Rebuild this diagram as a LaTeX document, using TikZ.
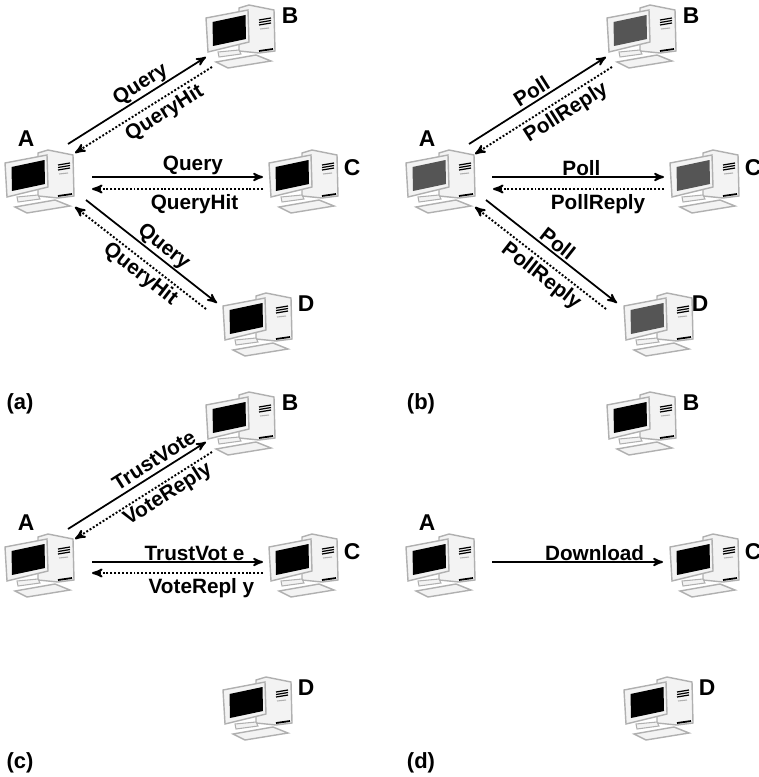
\documentclass[tikz,border=0pt]{standalone}
\usepackage{fontspec}
\setmainfont{Liberation Sans}
\usetikzlibrary{arrows}
\definecolor{casing}{HTML}{B0B0B0}
\definecolor{shell}{HTML}{F3F3F3}
\definecolor{dimscreen}{HTML}{555555}
\tikzstyle{compbox} = [rectangle, minimum width=40pt, minimum height=37pt, inner sep=0pt]
\tikzstyle{msg} = [font=\bfseries\fontsize{11.8}{13}\selectfont, inner sep=.5pt]
\tikzstyle{letter} = [font=\bfseries\fontsize{13}{15}\selectfont, inner sep=0pt]
\tikzstyle{caption} = [font=\bfseries\fontsize{12.5}{14}\selectfont, inner sep=0pt]
\tikzstyle{request} = [-stealth', line width=1pt, black]
\tikzstyle{answer} = [-stealth', line width=1.1pt, dash pattern=on 1.1pt off 1.1pt, black]
\tikzset{
pics/computer/.style={code={
 % tower
 \draw[casing,fill=shell,line width=0.8pt] (38,3) -- (48,0) -- (73,5) -- (74,46) -- (58,48) -- (38,46) -- cycle;
 \draw[black,line width=0.7pt] (58,15) -- (70,13) (58,17.5) -- (70,15.5) (58,20) -- (70,18);
 \draw[casing,line width=0.6pt] (59,24) -- (68,23);
 \draw[black,line width=1pt] (58,46) -- (72,44);
 % stand and keyboard
 \draw[casing,fill=shell,line width=0.6pt] (17,47) -- (38,45) -- (40,49) -- (18,52) -- cycle;
 \draw[casing,fill=shell,line width=0.8pt] (15,57) -- (55,50) -- (70,56) -- (27,63) -- cycle;
 % monitor
 \draw[casing,fill=shell,line width=0.8pt] (5,13) -- (47,5) -- (48,37) -- (7,47) -- cycle;
 \fill[#1] (11.5,17) -- (44.5,10) -- (45,34) -- (12,41) -- cycle;
}}}
\begin{document}
\begin{tikzpicture}[x=0.02cm,y=-0.02cm]
\useasboundingbox (0,0) rectangle (759,777);
\foreach \pn/\px/\py/\by/\dl/\screen in {a/0/0/0/0/black,b/401/0/0/-7/dimscreen,c/0/384/3/0/black,d/401/384/3/0/black}{
  \foreach \comp/\ox/\oy/\lx/\ly in {A/0/150/26/-11,B/201/5+\by/89/11,C/264/150/88/18,D/218/293/88+\dl/11}{
    \pic at (\px+\ox,\py+\oy) {computer=\screen};
    \node[compbox] (\pn\comp) at (\px+\ox+37,\py+\oy+33) {};
    \node[letter] (\pn\comp t) at (\px+\ox+\lx,\py+\oy+\ly) {\comp};
  }
}
% Query
\draw[request] ([shift={(31,-39)}]aA.center) -- node[msg,sloped,above,pos=.57] {Query} ([shift={(-32,19)}]aB.center);
\draw[answer] ([shift={(-26,29)}]aB.center) -- node[msg,sloped,below=1.5pt,pos=.4] {QueryHit} ([shift={(38,-30)}]aA.center);
\draw[request] ([shift={(55,-6)}]aA.center) -- node[msg,above,pos=.59] {Query} ([shift={(-38,-6)}]aC.center);
\draw[answer] ([shift={(-38,6)}]aC.center) -- node[msg,below=2pt,pos=.4] {QueryHit} ([shift={(55,6)}]aA.center);
\draw[request] ([shift={(49,17)}]aA.center) -- node[msg,sloped,above,pos=.54] {Query} ([shift={(-38,-23)}]aD.center);
\draw[answer] ([shift={(-49,-17)}]aD.center) -- node[msg,sloped,below=1pt,pos=.44] {QueryHit} ([shift={(38,24)}]aA.center);

% Poll
\draw[request] ([shift={(31,-39)}]bA.center) -- node[msg,sloped,above=1pt,pos=.5] {Poll} ([shift={(-33,19)}]bB.center);
\draw[answer] ([shift={(-27,29)}]bB.center) -- node[msg,sloped,below=1.5pt,pos=.39] {PollReply} ([shift={(37,-29)}]bA.center);
\draw[request] ([shift={(54,-6)}]bA.center) -- node[msg,above,pos=.52] {Poll} ([shift={(-38,-6)}]bC.center);
\draw[answer] ([shift={(-38,6)}]bC.center) -- node[msg,below=2pt,pos=.386] {PollReply} ([shift={(55,6)}]bA.center);
\draw[request] ([shift={(48,17)}]bA.center) -- node[msg,sloped,above=.5pt,pos=.5] {Poll} ([shift={(-39,-23)}]bD.center);
\draw[answer] ([shift={(-50,-17)}]bD.center) -- node[msg,sloped,below=1.5pt,pos=.43] {PollReply} ([shift={(37,24)}]bA.center);

% TrustVote
\draw[request] ([shift={(31,-38)}]cA.center) -- node[msg,sloped,above=2pt,pos=.67] {TrustVote} ([shift={(-32,17)}]cB.center);
\draw[answer] ([shift={(-26,27)}]cB.center) -- node[msg,sloped,below=.5pt,pos=.37] {VoteReply} ([shift={(38,-28)}]cA.center);
\draw[request] ([shift={(55,-5)}]cA.center) -- node[msg,above,pos=.6] {TrustVot e} ([shift={(-38,-5)}]cC.center);
\draw[answer] ([shift={(-38,6)}]cC.center) -- node[msg,below=2pt,pos=.36] {VoteRepl y} ([shift={(55,6)}]cA.center);

% Download
\draw[request] ([shift={(54,-5)}]dA.center) -- node[msg,above,pos=.6] {Download} ([shift={(-39,-5)}]dC.center);

\node[caption] (lba) at (20,404) {(a)};
\node[caption] (lbb) at (421,404) {(b)};
\node[caption] (lbc) at (20,763) {(c)};
\node[caption] (lbd) at (421,763) {(d)};
\end{tikzpicture}
\end{document}
